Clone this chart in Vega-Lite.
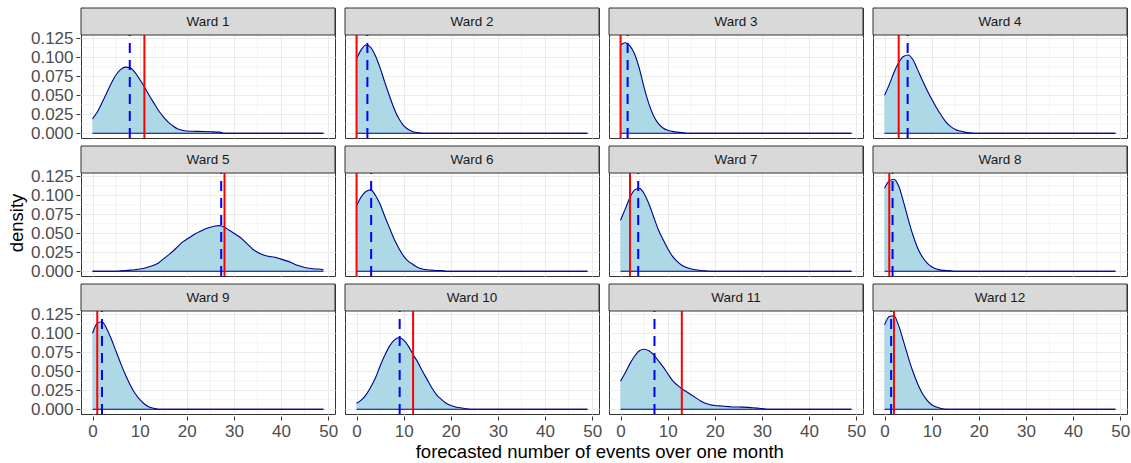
{
  "$schema": "https://vega.github.io/schema/vega-lite/v6.json",
  "padding": {"left": 7, "top": 7, "right": 4, "bottom": 2},
  "background": "white",
  "title": {"text": "forecasted number of events over one month", "orient": "bottom", "anchor": "middle", "frame": "bounds", "font": "Liberation Sans", "fontSize": 18.5, "fontWeight": "normal", "color": "#000000", "offset": 4, "dx": 31},
  "datasets": {
    "all": [
      {"w":"Ward 1","obs":11,"pred":7.9},
      {"w":"Ward 2","obs":0,"pred":2.3},
      {"w":"Ward 3","obs":0,"pred":1.5},
      {"w":"Ward 4","obs":3,"pred":4.9},
      {"w":"Ward 5","obs":28,"pred":27.3},
      {"w":"Ward 6","obs":0,"pred":3.1},
      {"w":"Ward 7","obs":2,"pred":3.75},
      {"w":"Ward 8","obs":1,"pred":1.7},
      {"w":"Ward 9","obs":1,"pred":2.0},
      {"w":"Ward 10","obs":12,"pred":9.15},
      {"w":"Ward 11","obs":13,"pred":7.2},
      {"w":"Ward 12","obs":2,"pred":1.4},

      {"w":"Ward 1","x":0,"d":0.019},{"w":"Ward 1","x":1,"d":0.028},{"w":"Ward 1","x":2,"d":0.040},{"w":"Ward 1","x":3,"d":0.053},{"w":"Ward 1","x":4,"d":0.066},{"w":"Ward 1","x":5,"d":0.077},{"w":"Ward 1","x":6,"d":0.084},{"w":"Ward 1","x":7,"d":0.087},{"w":"Ward 1","x":8,"d":0.086},{"w":"Ward 1","x":9,"d":0.080},{"w":"Ward 1","x":10,"d":0.071},{"w":"Ward 1","x":11,"d":0.061},{"w":"Ward 1","x":12,"d":0.050},{"w":"Ward 1","x":13,"d":0.040},{"w":"Ward 1","x":14,"d":0.030},{"w":"Ward 1","x":15,"d":0.022},{"w":"Ward 1","x":16,"d":0.015},{"w":"Ward 1","x":17,"d":0.010},{"w":"Ward 1","x":18,"d":0.006},{"w":"Ward 1","x":19,"d":0.004},{"w":"Ward 1","x":20,"d":0.003},{"w":"Ward 1","x":22,"d":0.0025},{"w":"Ward 1","x":25,"d":0.002},{"w":"Ward 1","x":27,"d":0.0015},{"w":"Ward 1","x":28,"d":0},{"w":"Ward 1","x":49,"d":0},

      {"w":"Ward 2","x":0,"d":0.098},{"w":"Ward 2","x":1,"d":0.110},{"w":"Ward 2","x":2,"d":0.116},{"w":"Ward 2","x":3,"d":0.113},{"w":"Ward 2","x":4,"d":0.102},{"w":"Ward 2","x":5,"d":0.086},{"w":"Ward 2","x":6,"d":0.067},{"w":"Ward 2","x":7,"d":0.049},{"w":"Ward 2","x":8,"d":0.032},{"w":"Ward 2","x":9,"d":0.019},{"w":"Ward 2","x":10,"d":0.010},{"w":"Ward 2","x":11,"d":0.005},{"w":"Ward 2","x":12,"d":0.002},{"w":"Ward 2","x":13,"d":0.0008},{"w":"Ward 2","x":14,"d":0},{"w":"Ward 2","x":49,"d":0},

      {"w":"Ward 3","x":0,"d":0.116},{"w":"Ward 3","x":1,"d":0.119},{"w":"Ward 3","x":2,"d":0.115},{"w":"Ward 3","x":3,"d":0.104},{"w":"Ward 3","x":4,"d":0.085},{"w":"Ward 3","x":5,"d":0.060},{"w":"Ward 3","x":6,"d":0.039},{"w":"Ward 3","x":7,"d":0.023},{"w":"Ward 3","x":8,"d":0.013},{"w":"Ward 3","x":9,"d":0.007},{"w":"Ward 3","x":10,"d":0.004},{"w":"Ward 3","x":11,"d":0.0025},{"w":"Ward 3","x":12,"d":0.0015},{"w":"Ward 3","x":13,"d":0.001},{"w":"Ward 3","x":14,"d":0},{"w":"Ward 3","x":49,"d":0},

      {"w":"Ward 4","x":0,"d":0.050},{"w":"Ward 4","x":1,"d":0.064},{"w":"Ward 4","x":2,"d":0.080},{"w":"Ward 4","x":3,"d":0.093},{"w":"Ward 4","x":4,"d":0.101},{"w":"Ward 4","x":5,"d":0.103},{"w":"Ward 4","x":6,"d":0.097},{"w":"Ward 4","x":7,"d":0.084},{"w":"Ward 4","x":8,"d":0.070},{"w":"Ward 4","x":9,"d":0.057},{"w":"Ward 4","x":10,"d":0.045},{"w":"Ward 4","x":11,"d":0.034},{"w":"Ward 4","x":12,"d":0.024},{"w":"Ward 4","x":13,"d":0.015},{"w":"Ward 4","x":14,"d":0.009},{"w":"Ward 4","x":15,"d":0.005},{"w":"Ward 4","x":16,"d":0.003},{"w":"Ward 4","x":17,"d":0.0015},{"w":"Ward 4","x":18,"d":0.0005},{"w":"Ward 4","x":19,"d":0},{"w":"Ward 4","x":49,"d":0},

      {"w":"Ward 5","x":0,"d":0},{"w":"Ward 5","x":5,"d":0},{"w":"Ward 5","x":6,"d":0.0005},{"w":"Ward 5","x":7,"d":0.001},{"w":"Ward 5","x":8,"d":0.0015},{"w":"Ward 5","x":9,"d":0.002},{"w":"Ward 5","x":10,"d":0.003},{"w":"Ward 5","x":11,"d":0.004},{"w":"Ward 5","x":12,"d":0.006},{"w":"Ward 5","x":13,"d":0.008},{"w":"Ward 5","x":14,"d":0.011},{"w":"Ward 5","x":15,"d":0.016},{"w":"Ward 5","x":16,"d":0.021},{"w":"Ward 5","x":17,"d":0.026},{"w":"Ward 5","x":18,"d":0.032},{"w":"Ward 5","x":19,"d":0.038},{"w":"Ward 5","x":20,"d":0.042},{"w":"Ward 5","x":21,"d":0.046},{"w":"Ward 5","x":22,"d":0.050},{"w":"Ward 5","x":23,"d":0.053},{"w":"Ward 5","x":24,"d":0.056},{"w":"Ward 5","x":25,"d":0.058},{"w":"Ward 5","x":26,"d":0.0595},{"w":"Ward 5","x":27,"d":0.060},{"w":"Ward 5","x":28,"d":0.058},{"w":"Ward 5","x":29,"d":0.054},{"w":"Ward 5","x":30,"d":0.050},{"w":"Ward 5","x":31,"d":0.046},{"w":"Ward 5","x":32,"d":0.041},{"w":"Ward 5","x":33,"d":0.035},{"w":"Ward 5","x":34,"d":0.029},{"w":"Ward 5","x":35,"d":0.025},{"w":"Ward 5","x":36,"d":0.022},{"w":"Ward 5","x":37,"d":0.020},{"w":"Ward 5","x":38,"d":0.019},{"w":"Ward 5","x":39,"d":0.018},{"w":"Ward 5","x":40,"d":0.016},{"w":"Ward 5","x":41,"d":0.014},{"w":"Ward 5","x":42,"d":0.012},{"w":"Ward 5","x":43,"d":0.009},{"w":"Ward 5","x":44,"d":0.007},{"w":"Ward 5","x":45,"d":0.005},{"w":"Ward 5","x":46,"d":0.004},{"w":"Ward 5","x":47,"d":0.003},{"w":"Ward 5","x":48,"d":0.003},{"w":"Ward 5","x":49,"d":0.002},

      {"w":"Ward 6","x":0,"d":0.086},{"w":"Ward 6","x":1,"d":0.098},{"w":"Ward 6","x":2,"d":0.105},{"w":"Ward 6","x":3,"d":0.107},{"w":"Ward 6","x":4,"d":0.100},{"w":"Ward 6","x":5,"d":0.088},{"w":"Ward 6","x":6,"d":0.072},{"w":"Ward 6","x":7,"d":0.057},{"w":"Ward 6","x":8,"d":0.042},{"w":"Ward 6","x":9,"d":0.030},{"w":"Ward 6","x":10,"d":0.020},{"w":"Ward 6","x":11,"d":0.013},{"w":"Ward 6","x":12,"d":0.009},{"w":"Ward 6","x":13,"d":0.005},{"w":"Ward 6","x":14,"d":0.003},{"w":"Ward 6","x":15,"d":0.002},{"w":"Ward 6","x":16,"d":0.0015},{"w":"Ward 6","x":17,"d":0.001},{"w":"Ward 6","x":18,"d":0.001},{"w":"Ward 6","x":19,"d":0},{"w":"Ward 6","x":49,"d":0},

      {"w":"Ward 7","x":0,"d":0.067},{"w":"Ward 7","x":1,"d":0.082},{"w":"Ward 7","x":2,"d":0.097},{"w":"Ward 7","x":3,"d":0.107},{"w":"Ward 7","x":4,"d":0.109},{"w":"Ward 7","x":5,"d":0.102},{"w":"Ward 7","x":6,"d":0.089},{"w":"Ward 7","x":7,"d":0.072},{"w":"Ward 7","x":8,"d":0.055},{"w":"Ward 7","x":9,"d":0.042},{"w":"Ward 7","x":10,"d":0.030},{"w":"Ward 7","x":11,"d":0.020},{"w":"Ward 7","x":12,"d":0.013},{"w":"Ward 7","x":13,"d":0.008},{"w":"Ward 7","x":14,"d":0.005},{"w":"Ward 7","x":15,"d":0.003},{"w":"Ward 7","x":16,"d":0.002},{"w":"Ward 7","x":17,"d":0.001},{"w":"Ward 7","x":18,"d":0.0005},{"w":"Ward 7","x":19,"d":0},{"w":"Ward 7","x":49,"d":0},

      {"w":"Ward 8","x":0,"d":0.109},{"w":"Ward 8","x":1,"d":0.119},{"w":"Ward 8","x":2,"d":0.121},{"w":"Ward 8","x":3,"d":0.112},{"w":"Ward 8","x":4,"d":0.092},{"w":"Ward 8","x":5,"d":0.069},{"w":"Ward 8","x":6,"d":0.048},{"w":"Ward 8","x":7,"d":0.031},{"w":"Ward 8","x":8,"d":0.019},{"w":"Ward 8","x":9,"d":0.011},{"w":"Ward 8","x":10,"d":0.006},{"w":"Ward 8","x":11,"d":0.003},{"w":"Ward 8","x":12,"d":0.0015},{"w":"Ward 8","x":13,"d":0.001},{"w":"Ward 8","x":14,"d":0.0005},{"w":"Ward 8","x":15,"d":0},{"w":"Ward 8","x":49,"d":0},

      {"w":"Ward 9","x":0,"d":0.100},{"w":"Ward 9","x":1,"d":0.113},{"w":"Ward 9","x":2,"d":0.115},{"w":"Ward 9","x":3,"d":0.106},{"w":"Ward 9","x":4,"d":0.092},{"w":"Ward 9","x":5,"d":0.076},{"w":"Ward 9","x":6,"d":0.060},{"w":"Ward 9","x":7,"d":0.045},{"w":"Ward 9","x":8,"d":0.032},{"w":"Ward 9","x":9,"d":0.021},{"w":"Ward 9","x":10,"d":0.013},{"w":"Ward 9","x":11,"d":0.007},{"w":"Ward 9","x":12,"d":0.003},{"w":"Ward 9","x":13,"d":0.0013},{"w":"Ward 9","x":14,"d":0},{"w":"Ward 9","x":49,"d":0},

      {"w":"Ward 10","x":0,"d":0.008},{"w":"Ward 10","x":1,"d":0.012},{"w":"Ward 10","x":2,"d":0.019},{"w":"Ward 10","x":3,"d":0.029},{"w":"Ward 10","x":4,"d":0.041},{"w":"Ward 10","x":5,"d":0.057},{"w":"Ward 10","x":6,"d":0.071},{"w":"Ward 10","x":7,"d":0.083},{"w":"Ward 10","x":8,"d":0.091},{"w":"Ward 10","x":9,"d":0.094},{"w":"Ward 10","x":10,"d":0.091},{"w":"Ward 10","x":11,"d":0.083},{"w":"Ward 10","x":12,"d":0.072},{"w":"Ward 10","x":13,"d":0.062},{"w":"Ward 10","x":14,"d":0.050},{"w":"Ward 10","x":15,"d":0.039},{"w":"Ward 10","x":16,"d":0.028},{"w":"Ward 10","x":17,"d":0.019},{"w":"Ward 10","x":18,"d":0.013},{"w":"Ward 10","x":19,"d":0.008},{"w":"Ward 10","x":20,"d":0.005},{"w":"Ward 10","x":21,"d":0.003},{"w":"Ward 10","x":22,"d":0.002},{"w":"Ward 10","x":23,"d":0.001},{"w":"Ward 10","x":24,"d":0},{"w":"Ward 10","x":49,"d":0},

      {"w":"Ward 11","x":0,"d":0.037},{"w":"Ward 11","x":1,"d":0.048},{"w":"Ward 11","x":2,"d":0.060},{"w":"Ward 11","x":3,"d":0.070},{"w":"Ward 11","x":4,"d":0.077},{"w":"Ward 11","x":5,"d":0.079},{"w":"Ward 11","x":6,"d":0.077},{"w":"Ward 11","x":7,"d":0.072},{"w":"Ward 11","x":8,"d":0.064},{"w":"Ward 11","x":9,"d":0.056},{"w":"Ward 11","x":10,"d":0.047},{"w":"Ward 11","x":11,"d":0.038},{"w":"Ward 11","x":12,"d":0.032},{"w":"Ward 11","x":13,"d":0.027},{"w":"Ward 11","x":14,"d":0.023},{"w":"Ward 11","x":15,"d":0.019},{"w":"Ward 11","x":16,"d":0.015},{"w":"Ward 11","x":17,"d":0.011},{"w":"Ward 11","x":18,"d":0.008},{"w":"Ward 11","x":19,"d":0.006},{"w":"Ward 11","x":20,"d":0.005},{"w":"Ward 11","x":21,"d":0.0045},{"w":"Ward 11","x":22,"d":0.004},{"w":"Ward 11","x":23,"d":0.0035},{"w":"Ward 11","x":24,"d":0.003},{"w":"Ward 11","x":25,"d":0.003},{"w":"Ward 11","x":26,"d":0.0028},{"w":"Ward 11","x":27,"d":0.0025},{"w":"Ward 11","x":28,"d":0.002},{"w":"Ward 11","x":29,"d":0.0015},{"w":"Ward 11","x":30,"d":0.001},{"w":"Ward 11","x":31,"d":0},{"w":"Ward 11","x":49,"d":0},

      {"w":"Ward 12","x":0,"d":0.111},{"w":"Ward 12","x":1,"d":0.122},{"w":"Ward 12","x":2,"d":0.123},{"w":"Ward 12","x":3,"d":0.110},{"w":"Ward 12","x":4,"d":0.090},{"w":"Ward 12","x":5,"d":0.069},{"w":"Ward 12","x":6,"d":0.050},{"w":"Ward 12","x":7,"d":0.034},{"w":"Ward 12","x":8,"d":0.021},{"w":"Ward 12","x":9,"d":0.012},{"w":"Ward 12","x":10,"d":0.006},{"w":"Ward 12","x":11,"d":0.003},{"w":"Ward 12","x":12,"d":0.001},{"w":"Ward 12","x":13,"d":0},{"w":"Ward 12","x":49,"d":0}
    ]
  },
  "vconcat": [
    {
      "title": {"text": "density", "orient": "left", "anchor": "middle", "frame": "bounds", "font": "Liberation Sans", "fontSize": 18.5, "fontWeight": "normal", "color": "#000000", "offset": 4},
      "data": {"name": "all"},
      "facet": {
        "field": "w",
        "type": "nominal",
        "sort": ["Ward 1","Ward 2","Ward 3","Ward 4","Ward 5","Ward 6","Ward 7","Ward 8","Ward 9","Ward 10","Ward 11","Ward 12"],
        "header": {"title": null, "labels": false, "labelExpr": "''", "labelFontSize": 0, "labelPadding": 0}
      },
      "columns": 4,
      "spacing": {"row": 5, "column": 8},
      "spec": {
        "width": 254,
        "height": 130,
        "layer": [
          {
            "transform": [{"filter": "datum.d != null"}],
            "mark": {"type": "area", "color": "#ADD8E6", "interpolate": "monotone", "opacity": 1},
            "encoding": {
              "x": {"field": "x", "type": "quantitative",
                    "title": null,
                    "scale": {"domain": [-2.45, 51.45], "nice": false, "zero": false},
                    "axis": {"values": [0, 10, 20, 30, 40, 50], "tickCount": 20, "title": null, "labelOverlap": false}},
              "y": {"field": "d", "type": "quantitative",
                    "title": null,
                    "scale": {"domain": [-0.0062, 0.1647], "nice": false, "zero": false},
                    "axis": {"values": [0, 0.025, 0.05, 0.075, 0.1, 0.125], "tickCount": 20, "format": ".3f", "title": null, "labelOverlap": false, "labelBound": false}}
            }
          },
          {"transform": [{"filter": "datum.obs != null"}], "mark": {"type": "rule", "color": "#EBEBEB", "strokeWidth": 0.6}, "encoding": {"x": {"datum": 5, "type": "quantitative"}}},
          {"transform": [{"filter": "datum.obs != null"}], "mark": {"type": "rule", "color": "#EBEBEB", "strokeWidth": 0.6}, "encoding": {"x": {"datum": 15, "type": "quantitative"}}},
          {"transform": [{"filter": "datum.obs != null"}], "mark": {"type": "rule", "color": "#EBEBEB", "strokeWidth": 0.6}, "encoding": {"x": {"datum": 25, "type": "quantitative"}}},
          {"transform": [{"filter": "datum.obs != null"}], "mark": {"type": "rule", "color": "#EBEBEB", "strokeWidth": 0.6}, "encoding": {"x": {"datum": 35, "type": "quantitative"}}},
          {"transform": [{"filter": "datum.obs != null"}], "mark": {"type": "rule", "color": "#EBEBEB", "strokeWidth": 0.6}, "encoding": {"x": {"datum": 45, "type": "quantitative"}}},
          {"transform": [{"filter": "datum.obs != null"}], "mark": {"type": "rule", "color": "#EBEBEB", "strokeWidth": 0.6}, "encoding": {"y": {"datum": 0.0125, "type": "quantitative"}}},
          {"transform": [{"filter": "datum.obs != null"}], "mark": {"type": "rule", "color": "#EBEBEB", "strokeWidth": 0.6}, "encoding": {"y": {"datum": 0.0375, "type": "quantitative"}}},
          {"transform": [{"filter": "datum.obs != null"}], "mark": {"type": "rule", "color": "#EBEBEB", "strokeWidth": 0.6}, "encoding": {"y": {"datum": 0.0625, "type": "quantitative"}}},
          {"transform": [{"filter": "datum.obs != null"}], "mark": {"type": "rule", "color": "#EBEBEB", "strokeWidth": 0.6}, "encoding": {"y": {"datum": 0.0875, "type": "quantitative"}}},
          {"transform": [{"filter": "datum.obs != null"}], "mark": {"type": "rule", "color": "#EBEBEB", "strokeWidth": 0.6}, "encoding": {"y": {"datum": 0.1125, "type": "quantitative"}}},
          {
            "transform": [{"filter": "datum.d != null"}],
            "mark": {"type": "area", "color": "#ADD8E6", "interpolate": "monotone", "opacity": 1},
            "encoding": {
              "x": {"field": "x", "type": "quantitative"},
              "y": {"field": "d", "type": "quantitative"}
            }
          },
          {
            "transform": [{"filter": "datum.d != null"}],
            "mark": {"type": "line", "color": "#00008B", "strokeWidth": 1.1, "interpolate": "monotone"},
            "encoding": {
              "x": {"field": "x", "type": "quantitative"},
              "y": {"field": "d", "type": "quantitative"}
            }
          },
          {
            "transform": [{"filter": "datum.d != null"}],
            "mark": {"type": "line", "color": "#00008B", "strokeWidth": 1.1},
            "encoding": {
              "x": {"field": "x", "type": "quantitative"},
              "y": {"datum": 0, "type": "quantitative"}
            }
          },
          {
            "transform": [{"filter": "datum.obs != null"}],
            "mark": {"type": "rule", "color": "#FF0000", "strokeWidth": 2},
            "encoding": {
              "x": {"field": "obs", "type": "quantitative"},
              "y": {"datum": -0.0062, "type": "quantitative"},
              "y2": {"datum": 0.1292}
            }
          },
          {
            "transform": [{"filter": "datum.obs != null"}],
            "mark": {"type": "rule", "color": "#0000FF", "strokeWidth": 2, "strokeDash": [10, 7]},
            "encoding": {
              "x": {"field": "pred", "type": "quantitative"},
              "y": {"datum": -0.0062, "type": "quantitative"},
              "y2": {"datum": 0.1292}
            }
          },
          {
            "transform": [{"filter": "datum.obs != null"}],
            "mark": {"type": "rect", "fill": "#D9D9D9", "stroke": "#333333", "strokeWidth": 1},
            "encoding": {
              "x": {"datum": -2.45, "type": "quantitative"},
              "x2": {"datum": 51.45},
              "y": {"datum": 0.1292, "type": "quantitative"},
              "y2": {"datum": 0.1647}
            }
          },
          {
            "transform": [{"filter": "datum.obs != null"}],
            "mark": {"type": "text", "font": "Liberation Sans", "fontSize": 13.5, "color": "#1A1A1A", "baseline": "middle", "align": "center"},
            "encoding": {
              "x": {"datum": 24.5, "type": "quantitative"},
              "y": {"datum": 0.14695, "type": "quantitative"},
              "text": {"field": "w"}
            }
          }
        ]
      }
    }
  ],
  "config": {
    "view": {"stroke": "#333333", "strokeWidth": 1},
    "font": "Liberation Sans",
    "header": {"labels": false, "title": null, "labelFontSize": 0, "labelPadding": 0, "labelExpr": "''"},
    "headerFacet": {"labels": false, "title": null, "labelFontSize": 0, "labelPadding": 0, "labelExpr": "''"},
    "axis": {
      "labelFont": "Liberation Sans", "labelFontSize": 17, "labelColor": "#4D4D4D", "labelOverlap": false,
      "titleFont": "Liberation Sans", "titleFontSize": 18, "titleColor": "#000000", "titleFontWeight": "normal",
      "tickColor": "#333333", "tickSize": 4, "domain": false,
      "gridColor": "#EBEBEB", "gridWidth": 1, "labelPadding": 3, "titlePadding": 4
    },
    "axisX": {"labelAngle": 0}
  }
}
